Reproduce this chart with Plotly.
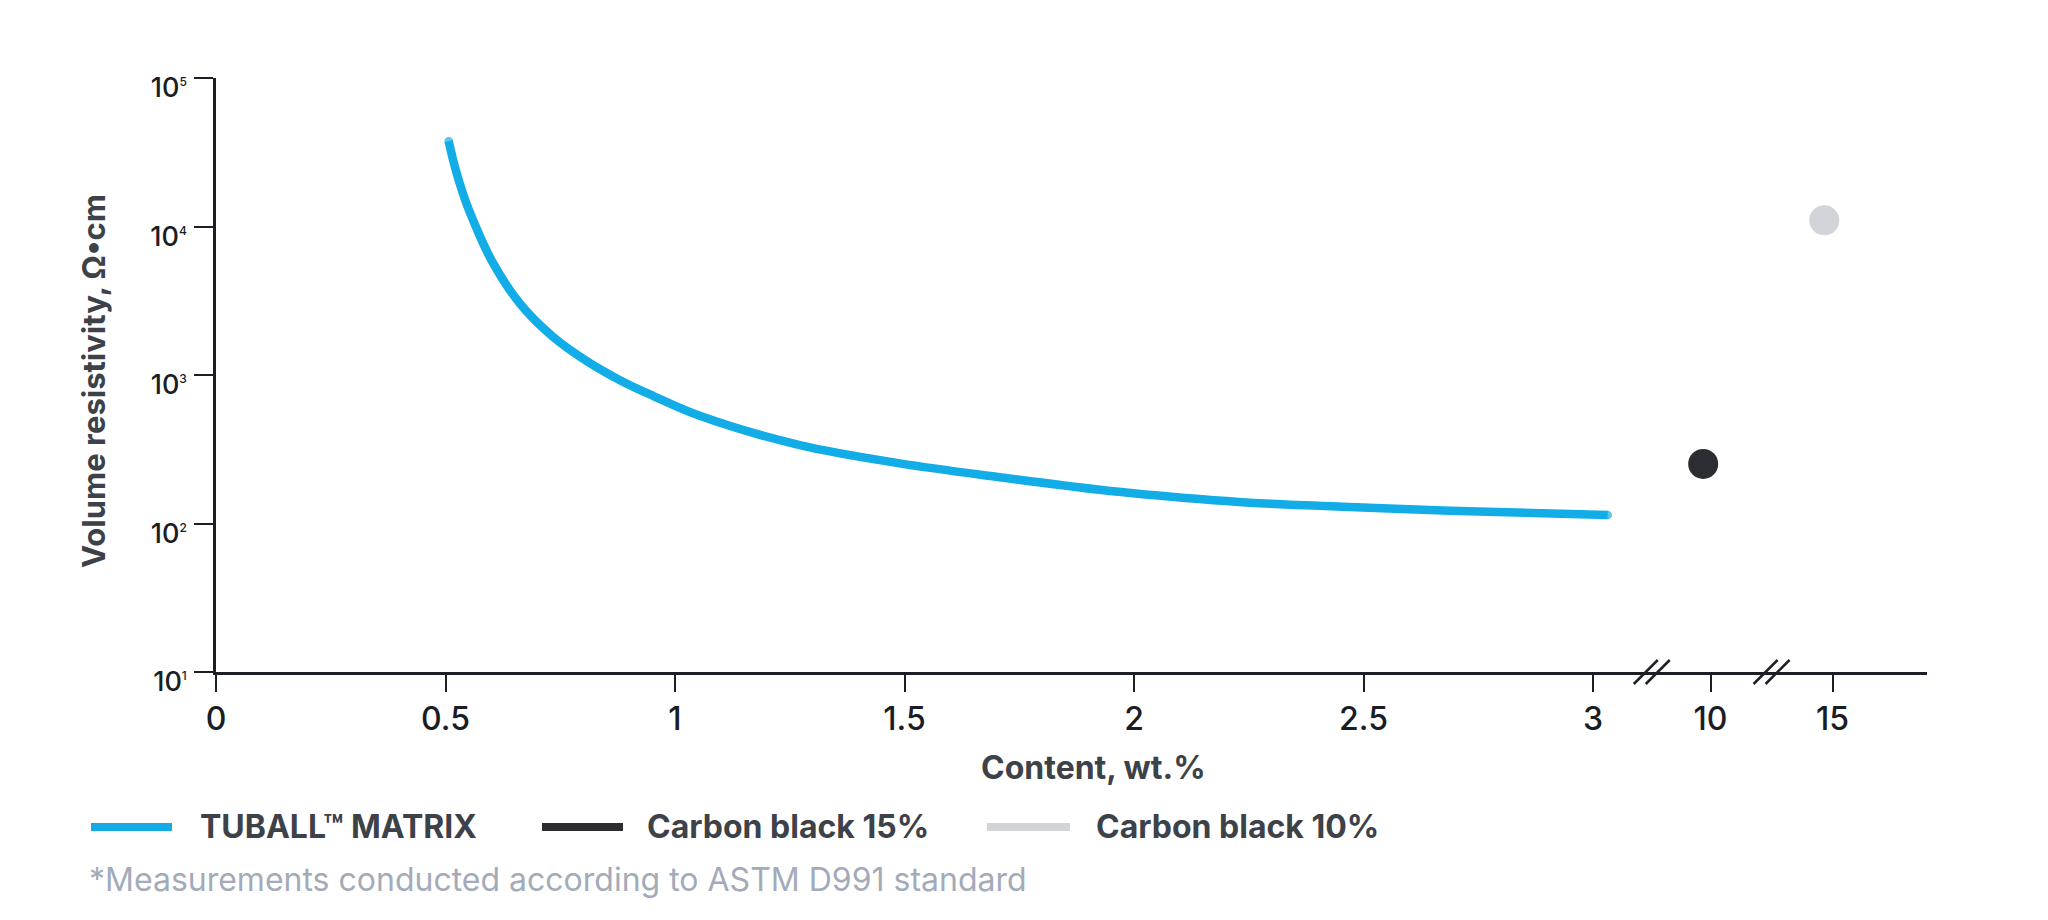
import plotly.graph_objects as go

# ---------------- data ----------------
tuball_content = [0.507, 0.518, 0.531, 0.545, 0.560, 0.600, 0.662, 0.734, 0.807, 0.880,
                  0.952, 1.054, 1.272, 1.490, 1.707, 1.925, 2.143, 2.252, 2.470, 2.688, 3.032]
tuball_resistivity = [37500, 26900, 19500, 14450, 11040, 5940, 3030, 1810, 1245, 923,
                      724, 531, 337, 254, 205, 169, 146, 138, 129, 122, 114]

cb_names = ["Carbon black 15%", "Carbon black 10%"]
cb_content = [9.7, 14.66]
cb_resistivity = [252, 11000]

x_tick_values = [0, 0.5, 1, 1.5, 2, 2.5, 3, 10, 15]
x_tick_labels = ["0", "0.5", "1", "1.5", "2", "2.5", "3", "10", "15"]
y_tick_values = [10, 100, 1000, 10000, 100000]
y_tick_exponents = ["1", "2", "3", "4", "5"]

legend_names = ["TUBALL™ MATRIX", "Carbon black 15%", "Carbon black 10%"]
footnote = "*Measurements conducted according to ASTM D991 standard"

# ---------------- broken x-axis mapping ----------------
P10, P15 = 3.256, 3.522  # display positions of 10 and 15 after the break


def xmap(v):
    if v <= 3.5:
        return v
    return P10 + (v - 10) * (P15 - P10) / 5.0


BLUE = "#12ACE7"
DARK = "#2B2D32"
LIGHT = "#D1D4D8"
AXIS = "#1C1F26"
TEXT = "#3D4148"
FOOT = "#A3ABB9"
FONT = "Inter"

W, H = 2048, 920
L, R, T, B = 216, 121, 78, 248
PW, PH = W - L - R, H - T - B


def px(x):
    return (x - L) / PW


def py(y):
    return (H - B - y) / PH


LW = 8.5
cap_sizes = [LW] + [0] * (len(tuball_content) - 2) + [LW]

fig = go.Figure()
fig.add_trace(go.Scatter(
    x=[xmap(v) for v in tuball_content], y=tuball_resistivity, mode="lines+markers",
    line=dict(color=BLUE, width=LW, shape="spline", smoothing=1.0),
    marker=dict(color=BLUE, size=cap_sizes, line=dict(width=0)),
    name=legend_names[0], showlegend=False, hoverinfo="skip"))
for name, xv, yv, col in zip(cb_names, cb_content, cb_resistivity, [DARK, LIGHT]):
    fig.add_trace(go.Scatter(
        x=[xmap(xv)], y=[yv], mode="markers", name=name, showlegend=False,
        marker=dict(color=col, size=30, line=dict(width=0))))

xrange_max = PW / 459.0

fig.update_layout(
    width=W, height=H, margin=dict(l=L, r=R, t=T, b=B, autoexpand=False),
    paper_bgcolor="white", plot_bgcolor="white",
    font=dict(family=FONT, color=AXIS),
    xaxis=dict(range=[0, xrange_max], showgrid=False, zeroline=False,
               showline=True, linecolor=AXIS, linewidth=2.5,
               ticks="outside", ticklen=17, tickwidth=2, tickcolor=AXIS,
               tickvals=[xmap(v) for v in x_tick_values], ticktext=x_tick_labels,
               tickfont=dict(family=FONT, size=32, color="#1A1D24", weight=500),
               ticklabelstandoff=0),
    yaxis=dict(type="log", range=[1, 5], showgrid=False, zeroline=False,
               showline=True, linecolor=AXIS, linewidth=2.5,
               ticks="outside", ticklen=19, tickwidth=2, tickcolor=AXIS,
               tickvals=y_tick_values,
               ticktext=["10<sup><span style='font-size:12px'>%s</span></sup>" % e
                         for e in y_tick_exponents],
               tickfont=dict(family=FONT, size=27, color="#1A1D24", weight=500),
               ticklabelshift=10, ticklabelstandoff=2),
)

# axis break marks
for a, b in [(3, 10), (10, 15)]:
    mid = (xmap(a) + xmap(b)) / 2
    for dx in (-12, 0):
        fig.add_shape(type="line", xref="x", yref="paper",
                      xsizemode="pixel", ysizemode="pixel",
                      xanchor=mid, yanchor=0,
                      x0=dx - 6, x1=dx + 18, y0=-12, y1=12,
                      line=dict(color=AXIS, width=2.5))

# axis titles
fig.add_annotation(text="<b>Content, wt.%</b>", xref="paper", yref="paper",
                   x=px(1093), y=py(767), xanchor="center", yanchor="middle",
                   showarrow=False, font=dict(family=FONT, size=32, color=TEXT))
fig.add_annotation(text="<b>Volume resistivity, Ω•cm</b>", xref="paper", yref="paper",
                   x=px(93), y=py(381), xanchor="center", yanchor="middle",
                   showarrow=False, textangle=-90,
                   font=dict(family=FONT, size=31, color=TEXT))

# legend (manual)
leg_y = 827
leg_items = [(91, 172, 198, BLUE), (542, 623, 645, DARK), (987, 1070, 1094, LIGHT)]
for name, (x0, x1, tx, col) in zip(legend_names, leg_items):
    fig.add_shape(type="line", xref="paper", yref="paper",
                  x0=px(x0), x1=px(x1), y0=py(leg_y), y1=py(leg_y),
                  line=dict(color=col, width=8))
    fig.add_annotation(text="<b>%s</b>" % name, xref="paper", yref="paper",
                       x=px(tx), y=py(leg_y), xanchor="left", yanchor="middle",
                       showarrow=False, font=dict(family=FONT, size=32, color=TEXT))

fig.add_annotation(text=footnote, xref="paper", yref="paper",
                   x=px(87), y=py(879), xanchor="left", yanchor="middle",
                   showarrow=False, font=dict(family=FONT, size=32, color=FOOT))

fig.write_html("out.html")
